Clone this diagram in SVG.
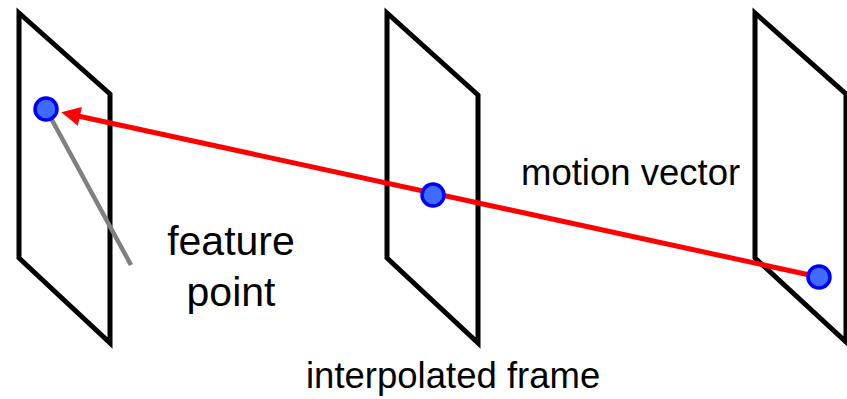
<svg xmlns="http://www.w3.org/2000/svg" width="847" height="399" viewBox="0 0 847 399">
<style>
.frame{fill:none;stroke:#000;stroke-width:5;stroke-linejoin:miter}
.dot{fill:#3f6bff;stroke:#0000ff;stroke-width:3.5}
.lbl{font-family:"Liberation Sans",Arial,sans-serif;fill:#000}
</style>
<defs>
<marker id="ah" viewBox="0 0 10 10" refX="1" refY="5" markerWidth="4" markerHeight="3.8" orient="auto-start-reverse" markerUnits="strokeWidth">
<path d="M0,0 L10,5 L0,10 z" fill="#ff0000"/>
</marker>
</defs>
<g id="frame1"><polygon class="frame" points="19,13 110,94 110,343 19,258"/></g>
<g id="frame2"><polygon class="frame" points="387,13 478,95 478,343 387,258"/></g>
<g id="frame3"><polygon class="frame" points="755,13 846,94 846,342 755,258"/></g>
<g id="connectors">
<line x1="46" y1="109" x2="131" y2="265" stroke="#808080" stroke-width="4.5"/>
<line x1="819" y1="277" x2="78" y2="116" stroke="#ff0000" stroke-width="5" marker-end="url(#ah)"/>
</g>
<g id="dot1"><circle class="dot" cx="46" cy="109" r="11"/></g>
<g id="dot2"><circle class="dot" cx="433" cy="195" r="11"/></g>
<g id="dot3"><circle class="dot" cx="819" cy="277" r="11"/></g>
<g id="label-feature"><text class="lbl" x="231" y="255" font-size="41" text-anchor="middle">feature</text><text class="lbl" x="231" y="306" font-size="41" text-anchor="middle">point</text></g>
<g id="label-motion"><text class="lbl" x="521" y="185" font-size="36.5">motion vector</text></g>
<g id="label-interp"><text class="lbl" x="306" y="388" font-size="36.5">interpolated frame</text></g>
</svg>
